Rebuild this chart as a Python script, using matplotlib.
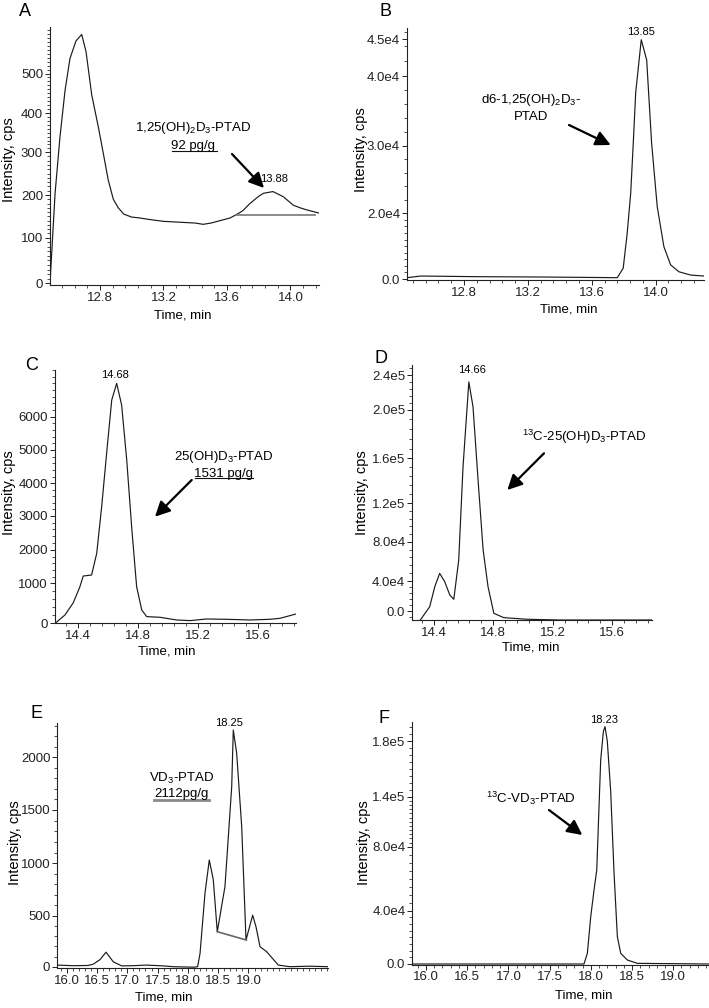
import numpy as np
import matplotlib
matplotlib.use("Agg")
import matplotlib.pyplot as plt
from matplotlib import transforms
from matplotlib.lines import Line2D
from matplotlib.ticker import FixedLocator, FixedFormatter, MultipleLocator

plt.rcParams['font.family'] = ['Liberation Sans', 'DejaVu Sans']
plt.rcParams['mathtext.fontset'] = 'custom'
plt.rcParams['mathtext.rm'] = 'Liberation Sans'
plt.rcParams['mathtext.it'] = 'Liberation Sans:italic'
plt.rcParams['mathtext.bf'] = 'Liberation Sans:bold'

# ---------------- data (time in min, intensity in cps) ----------------
a_time = [12.485, 12.517, 12.548, 12.580, 12.611, 12.649, 12.685, 12.712, 12.748, 12.789,
          12.821, 12.852, 12.884, 12.915, 12.95, 13.0, 13.05, 13.1, 13.2, 13.3, 13.4, 13.45,
          13.5, 13.56, 13.62, 13.66, 13.70, 13.745, 13.80, 13.83, 13.89, 13.955, 14.018,
          14.06, 14.102, 14.186]
a_int = [0, 204, 340, 458, 538, 582, 598, 555, 446, 366, 297, 235, 190, 170, 155, 148, 146,
         143, 138, 136, 134, 131, 134, 140, 146, 154, 163, 180, 197, 204, 208, 196, 176, 170,
         165, 157]
a_base_time = [13.66, 14.154]
a_base_int = [154, 154]

b_time = [12.443, 12.53, 12.9, 13.3, 13.76, 13.797, 13.822, 13.844, 13.86, 13.875, 13.91,
          13.944, 13.975, 14.01, 14.052, 14.094, 14.146, 14.22, 14.303]
b_int = [400, 900, 700, 600, 400, 3300, 13900, 23000, 30400, 37600, 44900, 42200, 30400,
         21000, 9800, 4300, 2200, 1200, 900]

c_time = [14.251, 14.311, 14.367, 14.411, 14.433, 14.489, 14.523, 14.556, 14.589, 14.623,
          14.656, 14.689, 14.723, 14.756, 14.789, 14.823, 14.856, 14.945, 15.056, 15.145,
          15.256, 15.389, 15.545, 15.678, 15.745, 15.851]
c_int = [15, 207, 515, 915, 1219, 1249, 1900, 3278, 4900, 6500, 7000, 6350, 4700, 2660, 915,
         333, 167, 150, 83, 67, 108, 100, 83, 100, 125, 233]

d_time = [14.31, 14.373, 14.407, 14.44, 14.474, 14.508, 14.535, 14.568, 14.597, 14.636,
          14.664, 14.698, 14.732, 14.765, 14.804, 14.871, 15.028, 15.248, 15.867]
d_int = [-12000, 5700, 32400, 47800, 39000, 21300, 15600, 61400, 152500, 232000, 203500,
         140700, 71600, 32400, -3100, -8900, -11000, -12000, -12000]

e_time = [15.845, 16.1, 16.35, 16.439, 16.55, 16.649, 16.769, 16.908, 17.1, 17.32, 17.45,
          17.594, 17.759, 18.1, 18.16, 18.2, 18.282, 18.353, 18.419, 18.485, 18.518, 18.612,
          18.723, 18.749, 18.805, 18.888, 18.959, 19.069, 19.124, 19.19, 19.3, 19.492,
          19.685, 20.0, 20.317]
e_int = [16, 10, 12, 25, 70, 143, 48, 8, 10, 16, 12, 8, 0, -5, 0, 128, 715, 1031, 844, 345,
         460, 780, 1721, 2259, 2038, 1343, 263, 508, 394, 197, 148, 16, 0, 5, 0]
e_base_time = [18.485, 18.965]
e_base_int = [345, 263]

f_time = [15.834, 17.917, 17.958, 17.999, 18.039, 18.072, 18.12, 18.152, 18.172, 18.2,
          18.241, 18.282, 18.322, 18.363, 18.443, 18.564, 19.434]
f_int = [0, 0, 8000, 35500, 52900, 65400, 166400, 186700, 190300, 180000, 144100, 63400,
         20500, 8000, 3000, 500, 0]

# tick values / labels
x_ab = [12.8, 13.2, 13.6, 14.0]
x_cd = [14.4, 14.8, 15.2, 15.6]
x_ef = [16.0, 16.5, 17.0, 17.5, 18.0, 18.5, 19.0]
ya_vals = [0, 100, 200, 300, 400, 500]
ya_labels = ['0', '100', '200', '300', '400', '500']
yb_vals = [0, 20000, 30000, 40000, 45000]
yb_labels = ['0.0', '2.0e4', '3.0e4', '4.0e4', '4.5e4']
yc_vals = [0, 1000, 2000, 3000, 4000, 5000, 6000]
yc_labels = ['0', '1000', '2000', '3000', '4000', '5000', '6000']
yd_vals = [0, 40000, 80000, 120000, 160000, 200000, 240000]
yd_labels = ['0.0', '4.0e4', '8.0e4', '1.2e5', '1.6e5', '2.0e5', '2.4e5']
ye_vals = [0, 500, 1000, 1500, 2000]
ye_labels = ['0', '500', '1000', '1500', '2000']
yf_vals = [0, 40000, 80000, 140000, 180000]
yf_labels = ['0.0', '4.0e4', '8.0e4', '1.4e5', '1.8e5']

# ---------------- layout ----------------
W, H = 709, 1008
fig = plt.figure(figsize=(W / 100, H / 100), dpi=100)
PX = transforms.Affine2D().scale(1 / W, -1 / H).translate(0, 1) + fig.transFigure
LINE = '#1a1a1a'


def warp(vals, rows):
    x = np.asarray(vals, float)
    y = -np.asarray(rows, float)

    def lin(v, xs, ys):
        v = np.asarray(v, float)
        s0 = (ys[1] - ys[0]) / (xs[1] - xs[0])
        s1 = (ys[-1] - ys[-2]) / (xs[-1] - xs[-2])
        out = np.interp(v, xs, ys)
        out = np.where(v < xs[0], ys[0] + (v - xs[0]) * s0, out)
        out = np.where(v > xs[-1], ys[-1] + (v - xs[-1]) * s1, out)
        return out

    return (lambda v: lin(v, x, y)), (lambda p: lin(p, y, x))


def panel(rect, letter, time, inten, xlim, xticks, xminor, yvals, ylabels, yrows, yminor,
          xlab_pos, ylab_pos):
    l, t, r, b = rect
    ax = fig.add_axes([l / W, 1 - b / H, (r - l) / W, (b - t) / H])
    fwd, inv = warp(yvals, yrows)
    ax.set_yscale('function', functions=(fwd, inv))
    ax.plot(time, inten, color=LINE, lw=0.85)
    ax.set_xlim(xlim)
    ax.set_ylim(float(inv(-b)), float(inv(-t)))
    ax.set_xticks(xticks, [f'{v:.1f}' for v in xticks])
    ax.xaxis.set_minor_locator(MultipleLocator(xminor))
    ax.yaxis.set_major_locator(FixedLocator(yvals))
    ax.yaxis.set_major_formatter(FixedFormatter(ylabels))
    ax.yaxis.set_minor_locator(MultipleLocator(yminor))
    for s in ('top', 'right'):
        ax.spines[s].set_visible(False)
    for s in ('left', 'bottom'):
        ax.spines[s].set_linewidth(0.8)
        ax.spines[s].set_color('#222222')
    ax.tick_params(which='major', length=3.5, width=0.7, labelsize=9.5, pad=1.5,
                   colors='#222222')
    ax.tick_params(which='minor', length=2.2, width=0.6, colors='#333333')
    ax.set_xlabel('Time, min', fontsize=9.5)
    ax.xaxis.set_label_coords(*xlab_pos, transform=PX)
    ax.set_ylabel('Intensity, cps', fontsize=10.5)
    ax.yaxis.set_label_coords(*ylab_pos, transform=PX)
    ax.xaxis.label.set_va('center')
    ax.yaxis.label.set_va('center')
    fig.text(*letter[1], letter[0], transform=PX, fontsize=13, ha='center', va='center')
    return ax


def label(x, y, s, size=9.5, **kw):
    fig.text(x, y, s, transform=PX, fontsize=size, ha='center', va='center', **kw)


def underline(x0, x1, y, color='#111111', lw=0.8):
    fig.add_artist(Line2D([x0, x1], [y, y], transform=PX, color=color, lw=lw))


def arrow(tail, head):
    fig.add_artist(matplotlib.patches.FancyArrowPatch(
        tail, head, transform=PX, arrowstyle='-|>,head_width=4.5,head_length=9',
        color='black', lw=1.6, shrinkA=0, shrinkB=0))


# A
axA = panel((50, 27, 319, 285), ('A', (25, 11)), a_time, a_int, (12.485, 14.18), x_ab, 0.08,
            ya_vals, ya_labels, [283.3, 237.5, 195, 152.2, 113.3, 73.5], 10,
            (183, 316), (9, 160))
axA.plot(a_base_time, a_base_int, color='#777777', lw=1.2)
label(193.3, 128.3, r'1,25(OH)$_2$D$_3$-PTAD')
label(193.3, 145.5, '92 pg/g')
underline(171.7, 216.7, 150.5)
arrow((232, 154), (264, 188))
label(274.5, 179, '13.88', size=8)

# B
axB = panel((407, 28, 704, 280), ('B', (385.7, 11)), b_time, b_int, (12.443, 14.303), x_ab,
            0.08, yb_vals, yb_labels, [279, 213.3, 146, 76.3, 39], 2000,
            (569, 309), (361, 150))
label(530.7, 100, r'd6-1,25(OH)$_2$D$_3$-')
label(530.7, 116.7, 'PTAD')
arrow((569, 125), (610.7, 145))
label(641.3, 31.7, '13.85', size=8)

# C
axC = panel((55, 370, 296, 623.3), ('C', (31.7, 365)), c_time, c_int, (14.245, 15.851), x_cd,
            0.08, yc_vals, yc_labels, [623.3, 583.3, 550, 515.7, 483.3, 450, 416.7], 200,
            (166.7, 651), (9, 493))
label(224, 456.7, r'25(OH)D$_3$-PTAD')
label(224, 473.5, '1531 pg/g')
underline(195, 253, 478.3)
arrow((191.7, 480), (155, 516.7))
label(115, 375, '14.68', size=8)

# D
axD = panel((412, 365, 652.3, 620), ('D', (380.7, 358.3)), d_time, d_int, (14.254, 15.869),
            x_cd, 0.08, yd_vals, yd_labels, [611, 581, 541.7, 503.3, 458.3, 409.7, 375], 8000,
            (530.7, 647.5), (362, 493))
label(584, 436.7, r'$^{13}$C-25(OH)D$_3$-PTAD')
arrow((544, 453.3), (507.3, 490))
label(472.3, 370, '14.66', size=8)

# E
axE = panel((57.3, 723.3, 328.3, 968.3), ('E', (36.7, 713.3)), e_time, e_int,
            (15.845, 20.317), x_ef, 0.1, ye_vals, ye_labels,
            [966.7, 916, 863.3, 810, 757.3], 100, (163.3, 998), (15, 843))
axE.plot(e_base_time, e_base_int, color='#666666', lw=1.2)
label(181.7, 778.3, r'VD$_3$-PTAD')
label(181.7, 794.5, '2112pg/g')
underline(154.3, 209, 800, color='#8a8a8a', lw=2.0)
label(229.3, 723.3, '18.25', size=8)

# F
axF = panel((412.3, 721.7, 709, 964.5), ('F', (384, 718.3)), f_time, f_int,
            (15.834, 19.434), x_ef, 0.1, yf_vals, yf_labels,
            [964, 910.7, 846.7, 796.7, 741], 5000, (584, 995), (364, 843))
label(530.7, 798.3, r'$^{13}$C-VD$_3$-PTAD')
arrow((549, 810), (582.3, 835))
label(604, 720, '18.23', size=8)

fig.savefig('out.png', dpi=100)
